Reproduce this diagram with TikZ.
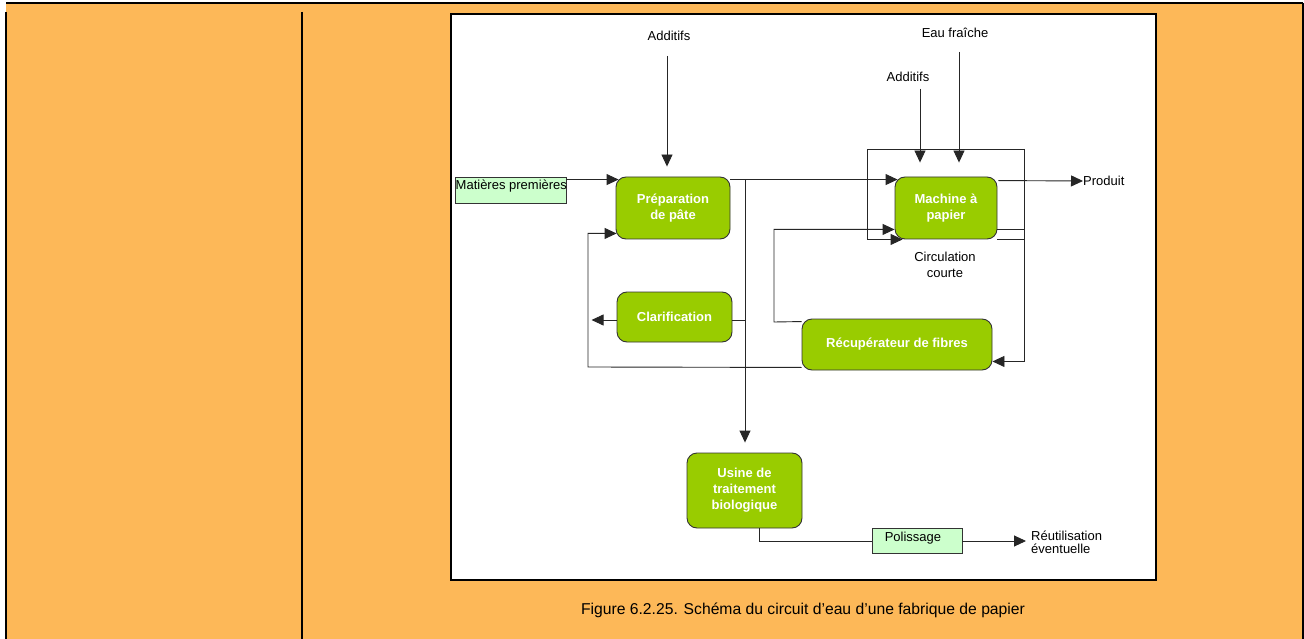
\documentclass[tikz,border=0pt]{standalone}
\usepackage{fontspec}
\setmainfont{Liberation Sans}
\usetikzlibrary{arrows.meta,calc}
\definecolor{bgorange}{RGB}{253,184,88}
\definecolor{nodegreen}{RGB}{153,204,0}
\definecolor{palegreen}{RGB}{204,255,204}
\begin{document}
\begin{tikzpicture}[x=1pt,y=-1pt,
  proc/.style={draw=black!80, fill=nodegreen, rounded corners=10pt, line width=0.9pt, text=white,
    font=\fontsize{13}{16}\selectfont\bfseries, align=center, inner sep=0pt},
  inbox/.style={draw=black!80, fill=palegreen, line width=0.9pt, inner sep=0pt,
    font=\fontsize{13}{15}\selectfont},
  lbl/.style={font=\fontsize{13}{16}\selectfont, align=center, inner sep=0pt},
  flow/.style={draw=black!85, line width=0.9pt},
  arr/.style={flow, -{Triangle[length=12pt,width=11pt]}},
  tableline/.style={draw=black, line width=1.3pt},
]
\useasboundingbox (0,0) rectangle (1304,639);
\fill[white] (0,0) rectangle (1304,639);
\fill[bgorange] (6,3) rectangle (1303,639);
\draw[tableline] (6,3) -- (1303,3);
\draw[tableline] (6,12) -- (6,639);
\draw[tableline] (302,12) -- (302,639);
\draw[tableline] (1303,3) -- (1303,639);
\draw[line width=2.5pt, fill=white] (451,14) rectangle (1156,580);

\node[font=\fontsize{15.7}{18}\selectfont, inner sep=0pt] (caption) at (803,610)
  {Figure 6.2.25. Schéma du circuit d’eau d’une fabrique de papier};

% process nodes
\node[proc, minimum width=114pt, minimum height=62pt] (prep) at (673,208) {Préparation\\de pâte};
\node[proc, minimum width=115pt, minimum height=50pt] (clar) at (674.5,317) {Clarification};
\node[proc, minimum width=102pt, minimum height=62pt] (mach) at (946,208) {Machine à\\papier};
\node[proc, minimum width=190pt, minimum height=51pt] (recup) at (897,344.5) {Récupérateur de fibres};
\node[proc, minimum width=115pt, minimum height=75pt] (usine) at (744.5,490.5) {Usine de\\traitement\\biologique};

% input boxes
\node[inbox, minimum width=111pt, minimum height=26pt] (mat) at (510.5,190) {};
\node[font=\fontsize{13}{15}\selectfont, anchor=north west, inner sep=0pt] (mattxt) at (455.5,180) {Matières premières};
\node[inbox, minimum width=90pt, minimum height=25pt] (pol) at (917,541) {};
\node[font=\fontsize{13}{15}\selectfont, inner sep=0pt] (poltxt) at (913,538) {Polissage};

% labels
\node[lbl] (add1) at (669,36) {Additifs};
\node[lbl] (eau) at (955,33) {Eau fraîche};
\node[lbl] (add2) at (908,77) {Additifs};
\node[lbl, anchor=west] (prod) at (1083,181) {Produit};
\node[lbl] (circ) at (945,265) {Circulation\\courte};
\node[font=\fontsize{13}{13.5}\selectfont, align=left, inner sep=0pt, anchor=west] (reut) at (1031,542.5) {Réutilisation\\éventuelle};

% coordinates
\coordinate (a1top) at (667,56);
\coordinate (a2top) at (920,89);
\coordinate (eautop) at (959,52);
\coordinate (vtop) at (745,180);
\coordinate (rc) at (588,367);
\coordinate (rk) at (774,322);
\coordinate (sltl) at (867,149);
\coordinate (sltr) at (1024,149);

% connectors
\draw[arr, shorten >=10pt] (a1top) -- (a1top |- prep.north);
\draw[arr, shorten >=14pt] (a2top) -- (a2top |- mach.north);
\draw[arr, shorten >=14pt] (eautop) -- (eautop |- mach.north);
\draw[arr] ($(mat.north east)+(0,3)$) -- ($(prep.north west)+(3,3)$);
\draw[arr] ($(prep.north east)+(0,3)$) -- ($(mach.north west)+(3,3)$);
\draw[arr, shorten >=10pt] (vtop) -- (vtop |- usine.north);
\draw[flow] ($(clar.east)+(0,3)$) coordinate (ce) -- (ce -| vtop);
\draw[arr] ($(clar.west)+(0,3)$) -- ($(clar.west)+(-25,3)$);
\draw[arr] ($(recup.south west)+(0,-3)$) -- (rc) |- ($(prep.south west)+(1,-6)$);
\draw[arr] ($(mach.south east)+(0,-10)$) -| (sltr) -- (sltl) |- ($(mach.south west)+(8,0)$);
\draw[flow] (mach.south east) -- (mach.south east -| sltr);
\draw[arr] (sltr) |- ($(recup.south east)+(0,-9)$);
\draw[arr] ($(recup.north west)+(0,3)$) -- (rk) |- ($(mach.south west)+(0,-10)$);
\draw[arr] ($(mach.north east)+(1,4)$) -- (prod.west);
\draw[flow] ($(usine.south)+(14.5,0)$) |- (pol.west);
\draw[arr, shorten >=5pt] (pol.east) -- (reut.west |- pol.east);
\end{tikzpicture}
\end{document}
